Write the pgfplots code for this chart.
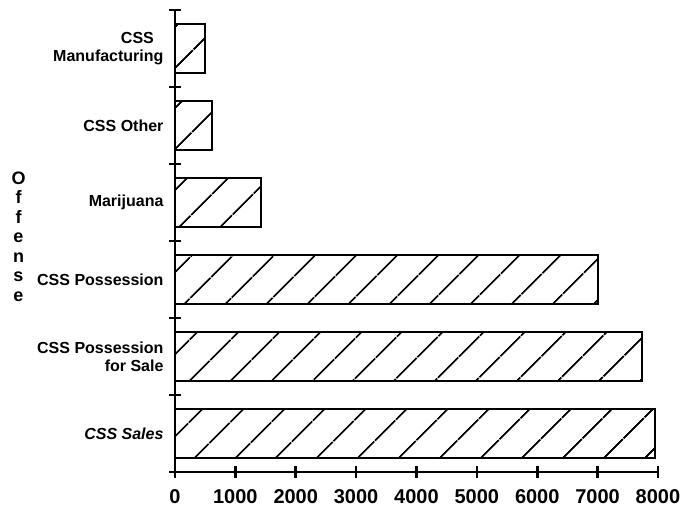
\documentclass[border=0pt]{standalone}
\usepackage{pgfplots}
\pgfplotsset{compat=1.18}
\usepackage{fontspec}
\setmainfont{Liberation Sans}
\usetikzlibrary{patterns.meta}

\begin{document}
\begin{tikzpicture}
\begin{axis}[
  scale only axis,
  width=483pt, height=462pt,
  xbar, bar width=0.64,
  xmin=0, xmax=8000, ymin=-0.5, ymax=5.5,
  axis x line=bottom, axis y line=left,
  axis line style={line width=2.5pt, -},
  xtick={0,1000,...,8000},
  /pgf/number format/1000 sep={},
  /pgf/number format/assume math mode=true,
  x tick label style={font=\bfseries\fontsize{20}{22}\selectfont, yshift=-8pt},
  tick align=center,
  major tick length=12pt,
  tick style={line width=2.6pt, black},
  ytick={-0.5,0.5,...,5.5},
  yticklabels={},
  extra y ticks={0,1,2,3,4,5},
  extra y tick labels={{\itshape CSS Sales}, {CSS Possession\\for Sale}, CSS Possession, Marijuana, CSS Other, {CSS\hspace*{0.6em}\\Manufacturing}},
  extra y tick style={tick style={draw=none}},
  y tick label style={font=\bfseries\fontsize{16}{18}\selectfont, align=right, xshift=-2pt},
  ylabel={O\\f\\f\\e\\n\\s\\e},
  ylabel style={rotate=-90, align=center, font=\bfseries\fontsize{18}{19.5}\selectfont,
    at={(axis description cs:-0.324,0.51)}, anchor=center},
]
% bars
\addplot[draw=black, line width=2pt,
  pattern={Lines[angle=45,distance=30pt,line width=2pt]}]
  coordinates {(7950,0) (7730,1) (7000,2) (1430,3) (610,4) (500,5)};
\end{axis}
\path (current axis.south west) ++(-175pt,-36pt) rectangle ++(697pt,508pt);
\end{tikzpicture}
\end{document}
